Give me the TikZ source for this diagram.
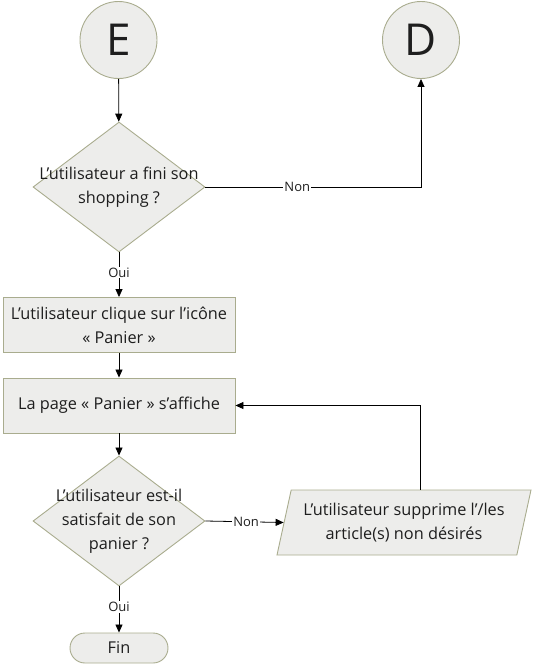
\documentclass[tikz,border=0pt]{standalone}
\usepackage{fontspec}
\setmainfont{Open Sans}
\usetikzlibrary{shapes.geometric,shapes.misc,arrows.meta}
\definecolor{bordc}{HTML}{A9AC8E}
\definecolor{fillc}{HTML}{EDEDEB}
\definecolor{txt}{HTML}{1E1E1E}
\tikzset{
  shapebase/.style={draw=bordc, fill=fillc, line width=0.9pt, text=txt, align=center, inner sep=0pt, font=\fontsize{16.3}{24}\selectfont},
  conn/.style={circle, shapebase, minimum size=77pt, font=\fontsize{44}{44}\selectfont},
  decision/.style={diamond, shapebase, minimum width=172pt, minimum height=130pt},
  dtext/.style={align=center, inner sep=0pt, text=txt, font=\fontsize{16.3}{24}\selectfont},
  procbox/.style={rectangle, shapebase, minimum width=232pt, minimum height=55pt},
  iobox/.style={trapezium, trapezium left angle=70, trapezium right angle=110, trapezium stretches body, shapebase, minimum width=254pt, minimum height=65pt},
  termbox/.style={rounded rectangle, shapebase, minimum width=98pt, minimum height=30pt},
  arr/.style={-{Triangle[length=8pt,width=7pt]}, line width=0.8pt, black},
  lbl/.style={fill=white, inner sep=1pt, text=txt, font=\fontsize{13}{13}\selectfont},
}
\begin{document}
\begin{tikzpicture}[x=1pt,y=-1pt]
\useasboundingbox (0,0) rectangle (533,665);
\node[conn] (E) at (118.5,40) {E};
\node[conn] (D) at (421,40) {D};
\node[decision] (d1) at (119,187) {};
\node[dtext] (t1) at (d1.center) {L’utilisateur a fini son\\shopping ?};
\node[procbox] (b1) at (119,325) {L’utilisateur clique sur l’icône\\« Panier »};
\node[procbox] (b2) at (119,405.5) {La page « Panier » s’affiche};
\node[decision] (d2) at (119,521) {};
\node[dtext] (t2) at (d2.center) {L’utilisateur est-il\\satisfait de son\\panier ?};
\node[iobox] (p) at (404,522.5) {L’utilisateur supprime l’/les\\article(s) non désirés};
\node[termbox] (fin) at (119,648) {Fin};
\draw[arr] (E) -- (d1);
\draw[arr] (d1.east) -| node[lbl, pos=0.213] {Non} (D.south);
\draw[arr] (d1.south) -- node[lbl, pos=0.45] {Oui} (b1.north);
\draw[arr] (b1) -- (b2);
\draw[arr] (b2) -- (d2);
\draw[arr] (d2.east) -- node[lbl, pos=0.52] {Non} (p.west);
\draw[arr] ([xshift=16pt]p.north) |- (b2.east);
\draw[arr] (d2.south) -- node[lbl, pos=0.45] {Oui} (fin.north);
\end{tikzpicture}
\end{document}
